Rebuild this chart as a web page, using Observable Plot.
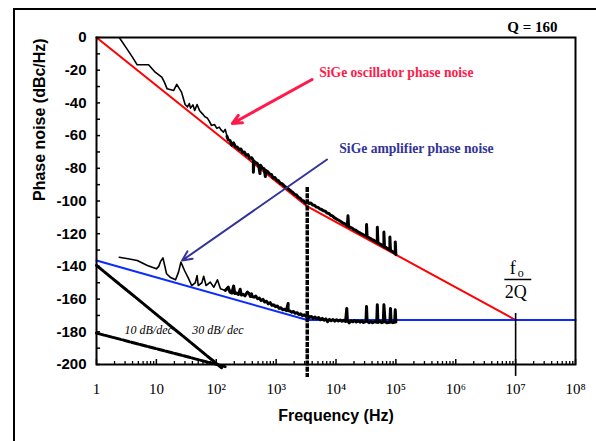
<!DOCTYPE html>
<html><head><meta charset="utf-8">
<script src="https://cdn.jsdelivr.net/npm/d3@7"></script>
<script src="https://cdn.jsdelivr.net/npm/@observablehq/plot@0.6"></script>
<style>
html,body{margin:0;padding:0;background:#fff;overflow:hidden;}
#wrap{position:relative;width:596px;height:441px;overflow:hidden;}
#wrap svg{position:absolute;left:0;top:0;}
#outer{position:absolute;left:13px;top:8px;width:700px;height:600px;border:2px solid #000;pointer-events:none;}
</style></head><body><div id="wrap"><div id="outer"></div></div>
<script>
// ---- measured oscillator phase noise (log10 of frequency in Hz, dBc/Hz)
const oscLogFreq = [0.38,0.50,0.60,0.68,0.87,0.98,1.09,1.13,1.18,1.29,1.34,1.42,1.48,1.52,1.55,1.57,1.61,1.64,1.68,1.72,1.77,1.81,1.85,1.89,1.92,1.97,2.01,2.05,2.08,2.12,2.15,2.18,
 2.20,2.23,2.26,2.29,2.32,2.35,2.38,2.41,2.44,2.47,2.50,2.53,2.56,2.59,2.62,2.62,2.63,2.65,2.68,2.71,2.73,2.74,2.77,2.80,2.82,2.83,2.86,2.89,2.92,2.95,2.98,3.01,3.04,3.07,3.10,3.13,3.16,3.19,3.22,3.25,3.28,3.31,3.34,3.37,3.40,3.43,3.46,3.49,
 3.52,3.55,3.58,3.61,3.64,3.67,3.70,3.73,3.76,3.79,3.82,3.85,3.88,3.91,3.94,3.97,4.00,4.03,4.06,4.09,4.12,4.15,4.18,4.19,4.20,4.21,4.24,4.27,4.30,4.33,4.36,4.39,4.42,4.45,4.48,4.51,4.51,4.52,4.54,4.57,4.60,4.63,4.66,4.69,4.69,4.70,4.72,4.75,4.78,4.80,4.80,4.81,4.83,4.86,4.90,4.90,4.91,4.93,4.96,4.99,4.99,5.00];
const oscDb = [0,-6.5,-12,-16.7,-16.7,-21.2,-24.2,-27,-31.4,-32.4,-28.7,-33.4,-41,-42.5,-40.4,-43.2,-41.2,-44.6,-41,-44.6,-46.7,-48.5,-49.2,-51.6,-53.8,-53.2,-55.6,-54.8,-56.5,-57.9,-56.2,-60.5,
 -62.5,-63.0,-65.8,-64.5,-66.9,-67.0,-68.6,-68.2,-70.3,-70.1,-72.0,-71.6,-73.9,-73.5,-75.2,-82.4,-75.6,-76.4,-76.8,-78.6,-83.2,-78.1,-79.9,-80.2,-85.0,-81.4,-82.0,-83.5,-83.8,-85.9,-85.6,-87.3,-87.6,-89.2,-89.4,-90.6,-91.5,-92.2,-93.1,-94.0,-94.8,-95.9,-96.3,-97.8,-98.2,-99.6,-100.0,-101.3,
 -100.5,-101.5,-101.2,-102.4,-102.6,-103.7,-103.9,-104.8,-105.2,-106.0,-106.2,-107.4,-107.6,-108.7,-109.1,-110.2,-110.8,-111.5,-112.1,-112.8,-113.6,-114.0,-115.0,-115.2,-109.0,-115.4,-116.2,-116.6,-117.5,-117.9,-118.8,-119.3,-120.0,-120.5,-121.1,-121.6,-114.4,-121.9,-122.3,-122.8,-123.6,-124.0,-124.9,-125.4,-116.0,-125.6,-126.0,-126.6,-127.3,-128.0,-119.0,-128.2,-128.3,-129.0,-130.0,-122.0,-130.2,-130.6,-131.4,-132.0,-125.0,-132.8];

// ---- measured amplifier phase noise
const ampLogFreq = [0.38,0.55,0.68,0.85,1.00,1.04,1.07,1.11,1.17,1.23,1.32,1.37,1.41,1.47,1.54,1.59,1.65,1.68,1.70,1.76,1.79,1.83,1.90,1.96,2.02,2.07,2.15,
 2.20,2.23,2.26,2.29,2.31,2.34,2.37,2.40,2.42,2.45,2.48,2.52,2.55,2.57,2.59,2.60,2.63,2.66,2.69,2.72,2.75,2.78,2.81,2.84,2.87,2.90,2.93,2.96,2.99,3.02,3.05,3.08,3.11,3.14,3.17,3.20,3.20,3.23,3.26,3.29,3.32,3.35,3.38,3.41,3.44,3.47,3.50,
 3.53,3.56,3.59,3.62,3.65,3.68,3.71,3.74,3.77,3.80,3.83,3.86,3.89,3.92,3.95,3.98,4.01,4.04,4.07,4.10,4.13,4.16,4.18,4.19,4.22,4.25,4.28,4.31,4.34,4.37,4.40,4.43,4.46,4.50,4.51,4.52,4.55,4.58,4.61,4.64,4.68,4.69,4.70,4.73,4.76,4.79,4.80,4.82,4.85,4.90,4.91,4.92,4.95,4.98,4.99,5.00];
const ampDb = [-134.4,-135.5,-136.4,-139.5,-141.5,-140,-137,-134.8,-144.5,-146.6,-148.2,-143.5,-137.4,-142.5,-147.6,-151.7,-150,-145.6,-151.7,-150,-146,-151.7,-149.6,-152.7,-148.2,-153.7,-154.7,
 -152.7,-155.8,-156.3,-152.0,-156.6,-156.3,-157.2,-154.0,-157.5,-157.1,-158.0,-155.7,-156.6,-158.3,-156.8,-158.5,-158.8,-158.2,-159.8,-159.4,-160.9,-160.2,-161.8,-161.3,-162.9,-162.2,-163.8,-163.5,-164.6,-164.2,-165.7,-165.3,-166.5,-166.2,-167.0,-162.7,-167.0,-167.3,-168.0,-167.6,-168.7,-168.3,-169.4,-169.0,-170.1,-169.6,-170.6,
 -170.0,-171.2,-170.6,-171.8,-171.0,-172.0,-171.3,-172.6,-171.8,-172.9,-172.1,-173.8,-172.4,-173.2,-172.5,-173.5,-172.6,-173.4,-172.8,-173.6,-172.9,-173.7,-165.7,-173.0,-174.5,-173.2,-173.9,-173.1,-174.0,-173.3,-174.1,-173.4,-174.3,-173.6,-164.5,-173.6,-174.4,-173.7,-174.5,-173.8,-174.2,-163.5,-174.3,-173.6,-174.4,-174.0,-163.5,-173.8,-174.5,-174.2,-165.7,-173.9,-174.4,-174.2,-166.5,-174.0];

// ---- model curves
const oscModelFreq = [1, 3311, 1e7];
const oscModelDb = [0, -103.3, -172.8];
const ampModelFreq = [1, 3311, 1e8];
const ampModelDb = [-136.4, -172.8, -172.8];
// ---- reference slopes
const slope30Freq = [1, 123];
const slope30Db = [-139.4, -202.0];
const slope10Freq = [1, 151];
const slope10Db = [-180.8, -201.6];
// ---- markers
const cornerFreq = 3311;           // flicker corner (dashed line)
const cornerDbRange = [-91.7, -208];
const f0over2QFreq = 1e7;
const f0over2QDbRange = [-168.8, -207.3];

// ---- axes
const xTicks = [1, 10, 100, 1e3, 1e4, 1e5, 1e6, 1e7, 1e8];
const xTickLabels = ["1", "10", "10²", "10³", "10⁴", "10⁵", "10⁶", "10⁷", "10⁸"];
const yTicks = [0, -20, -40, -60, -80, -100, -120, -140, -160, -180, -200];
const yTickLabels = ["0", "-20", "-40", "-60", "-80", "-100", "-120", "-140", "-160", "-180", "-200"];
const xTitle = "Frequency (Hz)";
const yTitle = "Phase noise (dBc/Hz)";

// ---- annotations
const oscLabel = "SiGe oscillator phase noise";
const ampLabel = "SiGe amplifier phase noise";
const qLabel = "Q = 160";
const slope10Label = "10 dB/dec";
const slope30Label = "30 dB/ dec";

const toRows = (fs, ds, log) => fs.map((f, i) => ({f: log ? 10 ** f : f, db: ds[i]}));
const osc = toRows(oscLogFreq, oscDb, true);
const amp = toRows(ampLogFreq, ampDb, true);
const oscModel = toRows(oscModelFreq, oscModelDb);
const ampModel = toRows(ampModelFreq, ampModelDb);
const s30 = toRows(slope30Freq, slope30Db);
const s10 = toRows(slope10Freq, slope10Db);

const xMinor = [];
for (let n = 0; n < 8; n++) for (let k = 2; k <= 9; k++) xMinor.push(k * 10 ** n);
const yMinor = d3.range(0, -201, -10);
const xLabelMap = new Map(xTicks.map((t, i) => [t, xTickLabels[i]]));
const yLabelMap = new Map(yTicks.map((t, i) => [t, yTickLabels[i]]));

const serif = "'Liberation Serif','Times New Roman',serif";
const sans = "'Liberation Sans',Arial,sans-serif";
const red = "#ff0000", blue = "#0a2aff", annRed = "#ff1a4b", annBlue = "#333399";

const plot = Plot.plot({
  width: 596, height: 441,
  marginLeft: 96, marginRight: 21, marginTop: 37, marginBottom: 77,
  style: {background: "transparent", overflow: "visible"},
  x: {type: "log", domain: [1, 1e8]},
  y: {domain: [-200, 0]},
  marks: [
    // model lines
    Plot.line(oscModel, {x: "f", y: "db", stroke: red, strokeWidth: 2}),
    Plot.line(ampModel, {x: "f", y: "db", stroke: blue, strokeWidth: 2}),
    // slope references
    Plot.line(s30, {x: "f", y: "db", stroke: "#000", strokeWidth: 3, strokeDasharray: "9,1.2"}),
    Plot.line(s10, {x: "f", y: "db", stroke: "#000", strokeWidth: 3, strokeDasharray: "7,2"}),
    // measured data
    Plot.line(osc.filter(d => d.f <= 10 ** 2.2), {x: "f", y: "db", stroke: "#000", strokeWidth: 1.6, clip: true}),
    Plot.line(osc.filter(d => d.f >= 10 ** 2.18), {x: "f", y: "db", stroke: "#000", strokeWidth: 3, clip: true}),
    Plot.line(amp.filter(d => d.f <= 10 ** 2.2), {x: "f", y: "db", stroke: "#000", strokeWidth: 1.6}),
    Plot.line(amp.filter(d => d.f >= 10 ** 2.15), {x: "f", y: "db", stroke: "#000", strokeWidth: 3}),
    // corner line & f0/2Q line
    Plot.ruleX([cornerFreq], {y1: cornerDbRange[0], y2: cornerDbRange[1], stroke: "#000", strokeWidth: 3.5, strokeDasharray: "5,1.2"}),
    Plot.ruleX([f0over2QFreq], {y1: f0over2QDbRange[0], y2: f0over2QDbRange[1], stroke: "#000", strokeWidth: 1.6}),
    // frame
    Plot.frame({stroke: "#000", strokeWidth: 2}),
    // axes ticks (inward)
    Plot.axisY(yMinor, {tickSize: -4, tickFormat: () => "", strokeWidth: 1.5, label: null}),
    Plot.axisY(yTicks, {tickSize: 0, tickPadding: 10, tickFormat: d => yLabelMap.get(d), fontSize: 15, fontWeight: "bold", fontFamily: sans, label: null}),
    Plot.axisX(xMinor, {tickSize: -3, tickFormat: () => "", strokeWidth: 1.3, label: null}),
    Plot.axisX(xTicks, {tickSize: -5, tickFormat: () => "", strokeWidth: 1.5, label: null}),
    Plot.axisX(xTicks, {tickSize: 0, tickPadding: 19, tickFormat: d => xLabelMap.get(d), fontSize: 15, fontFamily: serif, label: null}),
    // axis titles
    Plot.text([xTitle], {frameAnchor: "bottom", dy: 51, fontSize: 16, fontWeight: "bold", fontFamily: sans, lineAnchor: "middle"}),
    Plot.text([yTitle], {frameAnchor: "left", dx: -57, rotate: -90, fontSize: 16, fontWeight: "bold", fontFamily: sans, lineAnchor: "middle"}),
    // annotations
    Plot.arrow([0], {x1: 10 ** 3.6, y1: -25.7, x2: 10 ** 2.27, y2: -52.6, stroke: annRed, strokeWidth: 3, headLength: 5, headAngle: 50}),
    Plot.arrow([0], {x1: 10 ** 3.85, y1: -74.6, x2: 10 ** 1.43, y2: -136.4, stroke: annBlue, strokeWidth: 2, headLength: 8, headAngle: 50}),
    Plot.text([oscLabel], {x: 10 ** 3.72, y: -21.4, textAnchor: "start", fill: annRed, fontFamily: serif, fontWeight: "bold", fontSize: 13.6}),
    Plot.text([ampLabel], {x: 10 ** 4.055, y: -68, textAnchor: "start", fill: annBlue, fontFamily: serif, fontWeight: "bold", fontSize: 13.6}),
    Plot.text([qLabel], {x: 10 ** 6.86, y: 6.3, textAnchor: "start", fontFamily: serif, fontWeight: "bold", fontSize: 15}),
    Plot.text([slope10Label], {x: 10 ** 0.467, y: -179.2, textAnchor: "start", fontFamily: serif, fontStyle: "italic", fontSize: 12}),
    Plot.text([slope30Label], {x: 10 ** 1.6, y: -179.2, textAnchor: "start", fontFamily: serif, fontStyle: "italic", fontSize: 12}),
    Plot.text(["f"], {x: f0over2QFreq, y: -141.3, dx: -3, fontFamily: serif, fontSize: 18}),
    Plot.text(["o"], {x: f0over2QFreq, y: -141.3, dx: 5, dy: 5, fontFamily: serif, fontSize: 12}),
    Plot.ruleY([-148], {x1: 10 ** 6.82, x2: 10 ** 7.27, stroke: "#000", strokeWidth: 1.5}),
    Plot.text(["2Q"], {x: f0over2QFreq, y: -156, fontFamily: serif, fontSize: 18})
  ]
});
document.getElementById("wrap").prepend(plot);
</script>
</body></html>
